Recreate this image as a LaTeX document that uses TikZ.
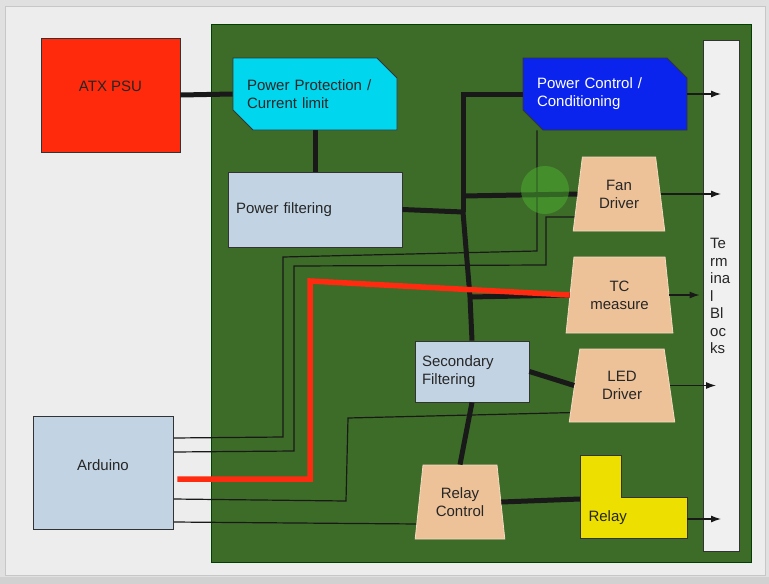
\documentclass[tikz,border=0pt]{standalone}
\usepackage{fontspec}
\setmainfont{Liberation Sans}
\usetikzlibrary{shapes.geometric,shapes.misc,arrows.meta}

\definecolor{windowgray}{HTML}{EDEDED}
\definecolor{boardgreen}{HTML}{3D6C28}
\definecolor{psured}{HTML}{FF2A0C}
\definecolor{protcyan}{HTML}{00D6EE}
\definecolor{ctrlblue}{HTML}{0A24EE}
\definecolor{steel}{HTML}{C2D4E4}
\definecolor{drivertan}{HTML}{EDC299}
\definecolor{relayyellow}{HTML}{EDE000}
\definecolor{wirered}{HTML}{FF2A10}
\definecolor{cursorgreen}{HTML}{4CB030}

\pgfdeclarelayer{board}
\pgfdeclarelayer{wires}
\pgfsetlayers{board,wires,main}

\tikzset{
  txt/.style={font=\fontsize{15}{18}\selectfont, text=black!85},
  block/.style={txt, draw=black!80, line width=0.8pt, rectangle, inner sep=0pt},
  chamf/.style={block, chamfered rectangle, chamfered rectangle corners={north east,south west},
    chamfered rectangle xsep=10pt, chamfered rectangle ysep=10pt, align=left, inner xsep=4pt,
    text width=136pt, minimum height=72pt},
  driver/.style={txt, trapezium, trapezium angle=80, trapezium stretches=true, fill=drivertan,
    draw=drivertan!60!white, line width=0.8pt, align=center, inner sep=0pt},
  bus/.style={line width=5pt, black!90},
  wire/.style={line width=1.2pt, black!90},
  sig/.style={wire, -{Latex[length=10pt,width=7pt]}},
  redwire/.style={line width=5.5pt, wirered},
}

\begin{document}
\begin{tikzpicture}[x=1pt,y=-1pt]
  \useasboundingbox (0,0) rectangle (769,584);

  % blocks
  \node[block, fill=psured, minimum width=139pt, minimum height=114pt, text depth=18pt] (psu) at (110.5,95) {ATX PSU};
  \node[block, fill=steel, minimum width=140pt, minimum height=113pt, text depth=14pt] (ard) at (103,472.5) {Arduino};
  \node[chamf, fill=protcyan] (prot) at (315,94) {Power Protection /\\Current limit};
  \node[chamf, fill=ctrlblue, text=white] (ctrl) at (605,94) {Power Control /\\Conditioning};
  \node[block, fill=steel, minimum height=75pt, text width=158pt, inner xsep=8pt, align=left] (filt) at (315,209.5) {Power filtering};
  \node[block, fill=steel, minimum height=61pt, text width=100pt, inner xsep=7pt, align=left] (sec) at (472,371.5) {Secondary\\Filtering};
  \node[block, fill=white!94!black, minimum width=36pt, minimum height=511pt] (term) at (721,295.5) {};
  \node[txt, anchor=north west, align=left, font=\fontsize{15}{17.5}\selectfont, inner sep=0pt] (termtext) at (710,238) {Te\\rm\\ina\\l\\Bl\\oc\\ks};

  % drivers
  \node[driver, minimum width=92pt, minimum height=74pt] (fan) at (619,194) {Fan\\Driver};
  \node[driver, minimum width=107pt, minimum height=76pt] (tc) at (619.5,295) {TC\\measure};
  \node[driver, minimum width=106pt, minimum height=73pt] (led) at (622,385.5) {LED\\Driver};
  \node[driver, minimum width=90pt, minimum height=74pt] (relctl) at (460,502) {Relay\\Control};

  % relay
  \draw[draw=black!80, line width=0.8pt, fill=relayyellow] (580,455) -- (621,455) -- (621,497) -- (687,497) -- (687,538) -- (580,538) -- cycle;
  \node[txt, anchor=west] (relay) at (585,518) {Relay};
  \coordinate (relayin) at (580,499);
  \coordinate (relayout) at (687,519);

  % power bus
  \coordinate (j1) at (463,212);
  \coordinate (jtop) at (463,94);
  \coordinate (jfan) at (463,196);
  \coordinate (jtc) at (470,297);
  \draw[bus] (psu.east) -- (prot.west);
  \draw[bus] (prot.south) -- (filt.north);
  \draw[bus] (filt.east) -- (j1);
  \draw[bus] (j1) -- (jtop) -- (ctrl.west);
  \draw[bus] (jfan) -- (fan.west);
  \draw[bus] (j1) -- (jtc) -- (sec.north);
  \draw[bus] (jtc) -- (tc.west);
  \draw[bus] (sec.east) -- (led.west);
  \draw[bus] (sec.south) -- (relctl.north);
  \draw[bus] (relctl.east) -- (relayin);

  % outputs
  \draw[sig] (ctrl.east) -- (ctrl.east -| term.center);
  \draw[sig] (fan.east) -- (fan.east -| term.center);
  \draw[sig] (tc.east) -- ([xshift=-3pt]tc.east -| term.west);
  \draw[sig] (led.east) -- ([xshift=-5pt]led.east -| term.center);
  \draw[sig] (relayout) -- (relayout -| term.center);

  % thermocouple line
  \draw[redwire] ([xshift=4pt]ard.east |- 0,479) -- (310,479) -- (310,281) -- (tc.west);

  % control lines
  \begin{pgfonlayer}{wires}
    \draw[wire] (ard.east |- 0,438) -- (283,437) -- (283,257) -- (537,251) -- ([xshift=-68pt]ctrl.south);
    \draw[wire] (ard.east |- 0,452) -- (294,451) -- (294,266) -- (546,265) -- (546,217) -- ([yshift=-23pt]fan.west);
    \draw[wire] (ard.east |- 0,499) -- (346,501) -- (348,418) -- ([yshift=-27pt]led.west);
    \draw[wire] (ard.east |- 0,522) -- ([yshift=-22pt]relctl.west);
  \end{pgfonlayer}

  % window and board
  \begin{pgfonlayer}{board}
    \fill[black!12] (0,0) rectangle (769,584);
    \draw[fill=windowgray, draw=black!22] (5,6) rectangle (765,575);
    \fill[black!18] (0,577) rectangle (769,584);
    \draw[fill=boardgreen, draw=black!75!green, line width=1pt] (211,24) rectangle (751,562);
  \end{pgfonlayer}

  % cursor highlight
  \fill[cursorgreen, opacity=0.5] (545,190) circle (24);
\end{tikzpicture}
\end{document}
